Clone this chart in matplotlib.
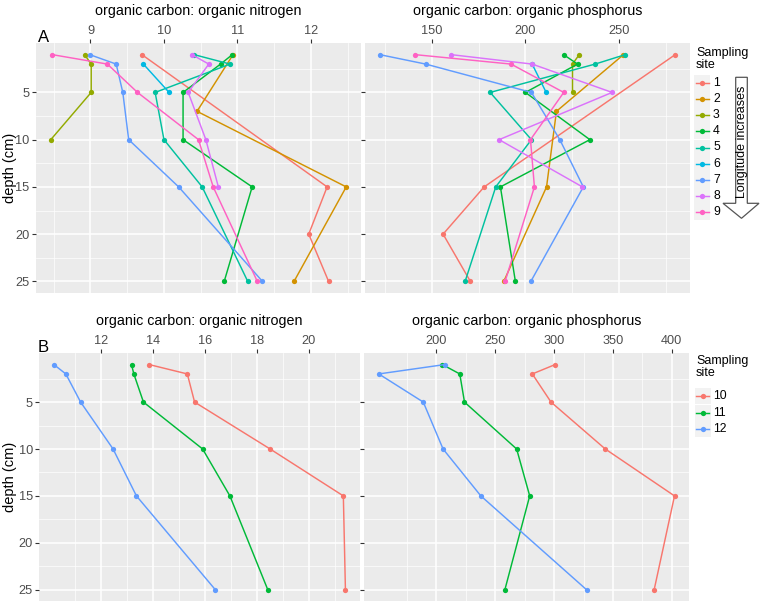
import numpy as np
import matplotlib
matplotlib.use("Agg")
import matplotlib.pyplot as plt
from matplotlib.lines import Line2D
from matplotlib.patches import Polygon, Rectangle

plt.rcParams['font.family'] = ['Liberation Sans', 'DejaVu Sans']

# ---------------- data ----------------
# panel A: sites 1-9
sites_a = ['1', '2', '3', '4', '5', '6', '7', '8', '9']
colors_a = ['#F8766D', '#D39200', '#93AA00', '#00BA38', '#00C19F',
            '#00B9E3', '#619CFF', '#DB72FB', '#FF61C3']

depth_s1 = [1, 15, 20, 25]
cn_s1 = [9.70, 12.22, 11.97, 12.24]
cp_s1 = [280.2, 177.9, 155.9, 170.5]

depth_s2 = [1, 7, 15, 25]
cn_s2 = [10.94, 10.45, 12.48, 11.77]
cp_s2 = [252.5, 216.6, 211.3, 188.4]

depth_s3 = [1, 2, 5, 10]
cn_s3 = [8.92, 9.01, 9.01, 8.46]
cp_s3 = [228.8, 225.2, 225.2, np.nan]

depth_s4 = [1, 2, 5, 10, 15, 25]
cn_s4 = [10.93, 10.77, 10.26, 10.26, 11.20, 10.82]
cp_s4 = [220.4, 227.9, 200.0, 234.5, 186.6, 194.6]

depth_s5 = [1, 2, 5, 10, 15, 25]
cn_s5 = [10.41, 10.90, 9.88, 10.00, 10.52, 11.14]
cp_s5 = [253.4, 237.3, 181.1, 203.2, 184.1, 167.7]

depth_s6 = [2, 5]
cn_s6 = [9.72, 10.07]
cp_s6 = [203.6, 211.1]

depth_s7 = [1, 2, 5, 10, 15, 25]
cn_s7 = [8.99, 9.35, 9.44, 9.52, 10.20, 11.34]
cp_s7 = [122.0, 146.6, 203.2, 218.4, 231.0, 202.9]

depth_s8 = [1, 2, 5, 10, 15]
cn_s8 = [10.38, 10.61, 10.33, 10.57, 10.74]
cp_s8 = [160.2, 203.6, 246.4, 185.9, 230.5]

depth_s9 = [1, 2, 5, 10, 15, 25]
cn_s9 = [8.48, 9.23, 9.64, 10.47, 10.67, 11.27]
cp_s9 = [140.9, 192.3, 220.5, 202.7, 204.8, 189.1]

# panel B: sites 10-12
sites_b = ['10', '11', '12']
colors_b = ['#F8766D', '#00BA38', '#619CFF']

depth_b = [1, 2, 5, 10, 15, 25]
cn_s10 = [13.85, 15.32, 15.60, 18.51, 21.33, 21.41]
cp_s10 = [300.9, 281.5, 297.4, 343.5, 402.3, 385.0]
cn_s11 = [13.17, 13.26, 13.63, 15.91, 16.96, 18.42]
cp_s11 = [205.1, 219.9, 223.9, 268.2, 279.3, 258.2]
cn_s12 = [10.18, 10.64, 11.21, 12.46, 13.36, 16.40]
cp_s12 = [207.1, 151.1, 188.9, 205.7, 237.8, 327.6]

depth_ticks = [5, 10, 15, 20, 25]
title_cn = 'organic carbon: organic nitrogen'
title_cp = 'organic carbon: organic phosphorus'

depths_a = [depth_s1, depth_s2, depth_s3, depth_s4, depth_s5, depth_s6, depth_s7, depth_s8, depth_s9]
cn_a = [cn_s1, cn_s2, cn_s3, cn_s4, cn_s5, cn_s6, cn_s7, cn_s8, cn_s9]
cp_a = [cp_s1, cp_s2, cp_s3, cp_s4, cp_s5, cp_s6, cp_s7, cp_s8, cp_s9]
cn_b = [cn_s10, cn_s11, cn_s12]
cp_b = [cp_s10, cp_s11, cp_s12]

# ---------------- figure ----------------
W, H = 764, 605
fig = plt.figure(figsize=(W / 100, H / 100), dpi=100)


def add_ax(x0, y0, x1, y1):
    return fig.add_axes([x0 / W, 1 - y1 / H, (x1 - x0) / W, (y1 - y0) / H])


def style(ax, xmajor, xminor, show_ylabels):
    ax.set_facecolor('#EBEBEB')
    for s in ax.spines.values():
        s.set_visible(False)
    ax.xaxis.tick_top()
    ax.set_xticks(xmajor)
    ax.set_xticks(xminor, minor=True)
    ax.set_yticks(depth_ticks)
    ax.set_yticks([2.5, 7.5, 12.5, 17.5, 22.5], minor=True)
    ax.grid(True, which='major', color='white', lw=1.1)
    ax.grid(True, which='minor', color='white', lw=0.5)
    ax.set_axisbelow(True)
    ax.tick_params(which='major', length=3, width=0.8, color='#333333',
                   labelcolor='#4D4D4D', labelsize=9.2, pad=1.5)
    ax.tick_params(which='minor', length=0)
    ax.tick_params(axis='x', top=True, bottom=False, labeltop=True, labelbottom=False)
    if not show_ylabels:
        ax.tick_params(axis='y', labelleft=False)
    ax.set_xticklabels([f'{v:g}' for v in xmajor])


def draw(ax, depth_list, values, colors):
    for d, v, c in zip(depth_list, values, colors):
        d = np.asarray(d, float)
        v = np.asarray(v, float)
        m = ~np.isnan(v)
        ax.plot(v[m], d[m], color=c, lw=1.05, marker='o', ms=3.8, mew=0)
    ax.margins(x=0.05, y=0.05)
    ax.invert_yaxis()


ax1 = add_ax(36, 43.3, 361, 292.7)
draw(ax1, depths_a, cn_a, colors_a)
style(ax1, [9, 10, 11, 12], [8.5, 9.5, 10.5, 11.5, 12.5], True)

ax2 = add_ax(365, 43.3, 690, 292.7)
draw(ax2, depths_a, cp_a, colors_a)
style(ax2, [150, 200, 250], [125, 175, 225, 275], False)

ax3 = add_ax(39.3, 353.3, 360, 601)
draw(ax3, [depth_b] * 3, cn_b, colors_b)
style(ax3, [12, 14, 16, 18, 20], [11, 13, 15, 17, 19, 21], True)

ax4 = add_ax(364, 353.3, 689.3, 601)
draw(ax4, [depth_b] * 3, cp_b, colors_b)
style(ax4, [200, 250, 300, 350, 400], [175, 225, 275, 325, 375], False)

# overlay in pixel coordinates for annotations
ov = fig.add_axes([0, 0, 1, 1], zorder=10)
ov.set_xlim(0, W)
ov.set_ylim(H, 0)
ov.axis('off')

tfs = 10.3
ov.text((36 + 361) / 2, 11, title_cn, ha='center', va='center', fontsize=tfs)
ov.text((365 + 690) / 2, 11, title_cp, ha='center', va='center', fontsize=tfs)
ov.text((39.3 + 360) / 2, 321, title_cn, ha='center', va='center', fontsize=tfs)
ov.text((364 + 689.3) / 2, 321, title_cp, ha='center', va='center', fontsize=tfs)

ov.text(10, 168, 'depth (cm)', rotation=90, ha='center', va='center', fontsize=10.5)
ov.text(10, 477, 'depth (cm)', rotation=90, ha='center', va='center', fontsize=10.5)

ov.text(44, 38, 'A', ha='center', va='center', fontsize=12)
ov.text(43, 348, 'B', ha='center', va='center', fontsize=12)

# legends
def legend(x_key, y_title, y0, step, labels, colors):
    ov.text(696, y_title, 'Sampling\nsite', ha='left', va='center', fontsize=9,
            linespacing=1.05)
    for i, (lab, c) in enumerate(zip(labels, colors)):
        y = y0 + i * step
        ov.add_patch(Rectangle((x_key - 8, y - 8), 16, 16, color='#F2F2F2', lw=0))
        ov.add_line(Line2D([x_key - 6.5, x_key + 6.5], [y, y], color=c, lw=1.05))
        ov.add_line(Line2D([x_key], [y], color=c, marker='o', ms=3.8, mew=0))
        ov.text(x_key + 11, y, lab, ha='left', va='center', fontsize=8.8)


legend(702, 59, 83.3, 16.05, sites_a, colors_a)
legend(702.5, 367, 396, 16.6, sites_b, colors_b)

# arrow "Longitude increases"
arrow = Polygon([(735.7, 77.3), (747.3, 77.3), (747.3, 203.3), (759, 203.3),
                 (741.5, 218.3), (723, 203.3), (735.7, 203.3)],
                closed=True, facecolor='white', edgecolor='#555555', lw=0.9)
ov.add_patch(arrow)
ov.text(741.5, 142, 'Longitude increases', rotation=90, ha='center', va='center',
        fontsize=9)

fig.savefig('out.png', dpi=100)
